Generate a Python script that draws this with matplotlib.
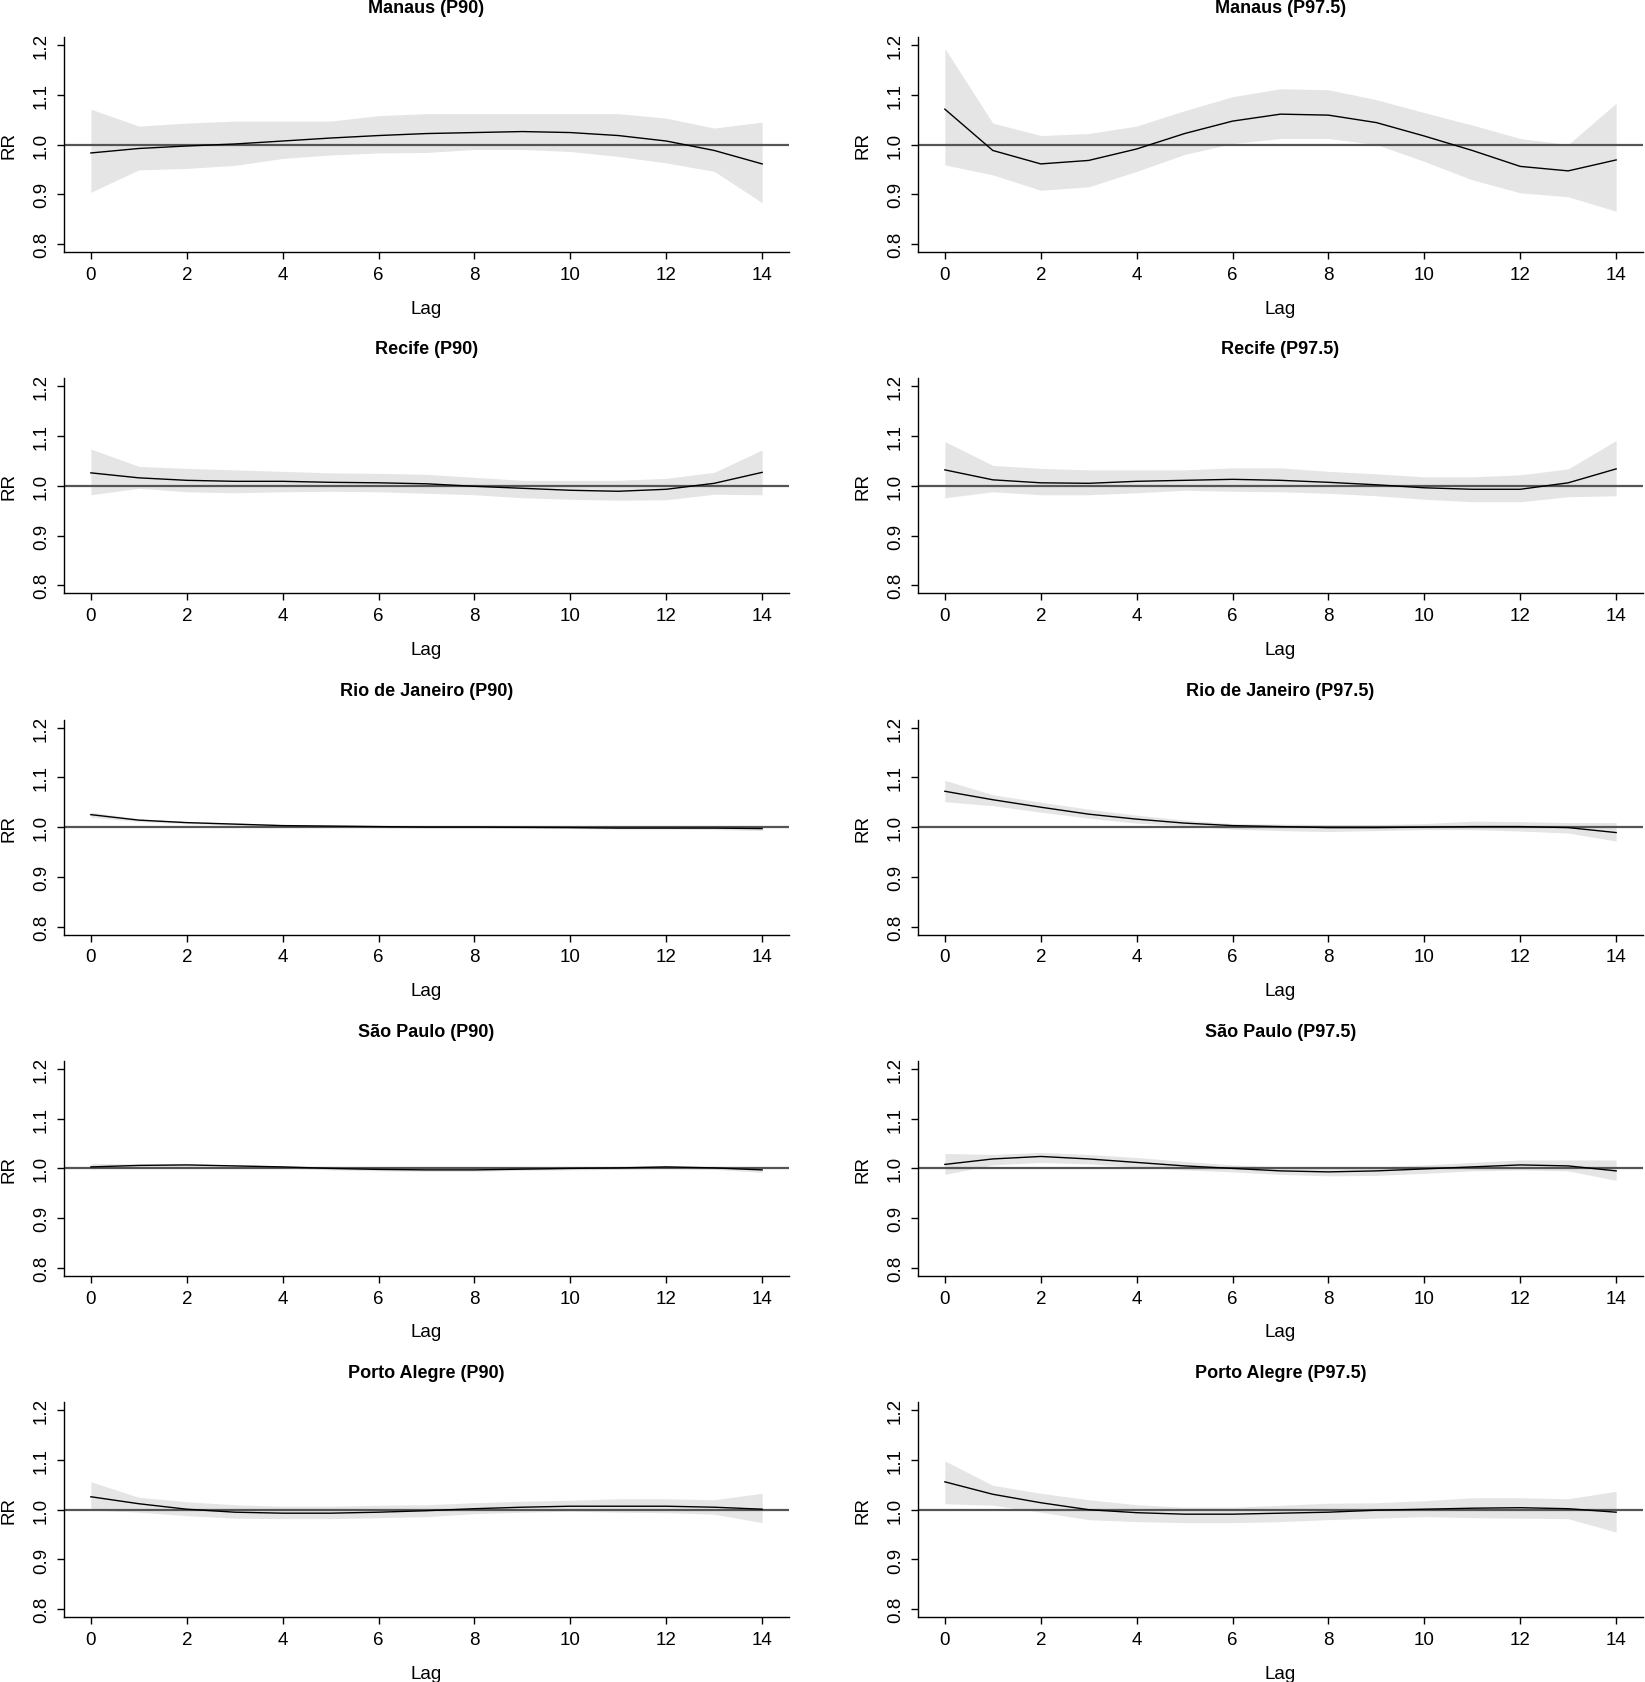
#python3

import numpy as np
import matplotlib
matplotlib.use('Agg')
import matplotlib.pyplot as plt

plt.rcParams['font.family'] = ['Liberation Sans', 'DejaVu Sans']

# lag axis
lags = np.arange(0, 15)

# titles of the ten panels, row by row (left = P90, right = P97.5)
titles = ['Manaus (P90)', 'Manaus (P97.5)',
          'Recife (P90)', 'Recife (P97.5)',
          'Rio de Janeiro (P90)', 'Rio de Janeiro (P97.5)',
          'São Paulo (P90)', 'São Paulo (P97.5)',
          'Porto Alegre (P90)', 'Porto Alegre (P97.5)']

# relative risk estimates, lag 0..14
manaus_p90_rr = [0.983, 0.992, 0.997, 1.001, 1.007, 1.013, 1.018, 1.022, 1.024, 1.026, 1.024, 1.018, 1.007, 0.988, 0.961]
manaus_p90_hi = [1.071, 1.037, 1.043, 1.047, 1.047, 1.047, 1.058, 1.062, 1.062, 1.062, 1.062, 1.062, 1.053, 1.033, 1.045]
manaus_p90_lo = [0.904, 0.949, 0.952, 0.958, 0.972, 0.979, 0.983, 0.984, 0.990, 0.990, 0.986, 0.976, 0.963, 0.946, 0.883]

manaus_p975_rr = [1.071, 0.988, 0.961, 0.968, 0.991, 1.022, 1.047, 1.061, 1.059, 1.044, 1.017, 0.988, 0.956, 0.947, 0.969]
manaus_p975_hi = [1.193, 1.043, 1.018, 1.022, 1.037, 1.068, 1.096, 1.112, 1.110, 1.090, 1.064, 1.039, 1.012, 1.000, 1.083]
manaus_p975_lo = [0.959, 0.939, 0.908, 0.915, 0.946, 0.980, 1.002, 1.012, 1.012, 1.000, 0.966, 0.929, 0.903, 0.895, 0.866]

recife_p90_rr = [1.026, 1.016, 1.011, 1.009, 1.009, 1.007, 1.006, 1.004, 0.999, 0.995, 0.991, 0.989, 0.993, 1.005, 1.027]
recife_p90_hi = [1.074, 1.039, 1.035, 1.032, 1.029, 1.026, 1.025, 1.023, 1.017, 1.011, 1.011, 1.011, 1.015, 1.027, 1.072]
recife_p90_lo = [0.982, 0.995, 0.988, 0.986, 0.988, 0.989, 0.988, 0.985, 0.982, 0.976, 0.973, 0.971, 0.972, 0.983, 0.982]

recife_p975_rr = [1.032, 1.012, 1.006, 1.005, 1.009, 1.011, 1.013, 1.011, 1.007, 1.002, 0.996, 0.993, 0.993, 1.006, 1.034]
recife_p975_hi = [1.089, 1.041, 1.035, 1.032, 1.032, 1.032, 1.036, 1.036, 1.029, 1.024, 1.018, 1.018, 1.022, 1.034, 1.091]
recife_p975_lo = [0.976, 0.988, 0.982, 0.982, 0.986, 0.991, 0.989, 0.988, 0.985, 0.980, 0.973, 0.968, 0.968, 0.978, 0.980]

rio_p90_rr = [1.025, 1.014, 1.009, 1.006, 1.003, 1.002, 1.001, 1.000, 1.000, 0.9995, 0.999, 0.998, 0.998, 0.998, 0.997]
rio_p90_hi = [1.030, 1.017, 1.011, 1.008, 1.005, 1.004, 1.003, 1.002, 1.002, 1.002, 1.001, 1.000, 1.000, 1.000, 0.999]
rio_p90_lo = [1.020, 1.011, 1.007, 1.004, 1.001, 1.000, 0.999, 0.998, 0.998, 0.997, 0.997, 0.996, 0.996, 0.995, 0.993]

rio_p975_rr = [1.072, 1.055, 1.040, 1.026, 1.016, 1.008, 1.003, 1.001, 0.999, 0.999, 1.000, 1.001, 1.001, 0.999, 0.989]
rio_p975_hi = [1.094, 1.065, 1.050, 1.036, 1.024, 1.014, 1.007, 1.006, 1.005, 1.005, 1.007, 1.012, 1.011, 1.009, 1.009]
rio_p975_lo = [1.051, 1.043, 1.030, 1.018, 1.008, 1.003, 0.996, 0.993, 0.991, 0.993, 0.995, 0.995, 0.992, 0.988, 0.972]

sp_p90_rr = [1.003, 1.006, 1.007, 1.005, 1.003, 1.000, 0.998, 0.997, 0.997, 0.9985, 1.000, 1.001, 1.003, 1.001, 0.997]
sp_p90_hi = [1.010, 1.009, 1.009, 1.007, 1.005, 1.003, 1.001, 1.000, 1.000, 1.001, 1.003, 1.004, 1.005, 1.004, 1.004]
sp_p90_lo = [0.999, 1.003, 1.004, 1.003, 1.001, 0.997, 0.995, 0.994, 0.994, 0.996, 0.997, 0.998, 1.000, 0.998, 0.992]

sp_p975_rr = [1.008, 1.019, 1.024, 1.019, 1.012, 1.005, 1.000, 0.995, 0.993, 0.995, 0.999, 1.003, 1.007, 1.005, 0.995]
sp_p975_hi = [1.030, 1.028, 1.032, 1.028, 1.022, 1.014, 1.007, 1.003, 1.001, 1.003, 1.007, 1.012, 1.017, 1.017, 1.017]
sp_p975_lo = [0.988, 1.007, 1.012, 1.009, 1.003, 0.997, 0.993, 0.988, 0.985, 0.986, 0.990, 0.995, 0.997, 0.995, 0.976]

poa_p90_rr = [1.026, 1.012, 1.001, 0.995, 0.993, 0.993, 0.995, 0.998, 1.002, 1.005, 1.007, 1.007, 1.007, 1.005, 1.001]
poa_p90_hi = [1.056, 1.025, 1.016, 1.010, 1.007, 1.007, 1.009, 1.010, 1.014, 1.017, 1.019, 1.022, 1.022, 1.020, 1.033]
poa_p90_lo = [0.999, 0.995, 0.988, 0.983, 0.982, 0.982, 0.984, 0.986, 0.992, 0.995, 0.997, 0.995, 0.994, 0.991, 0.974]

poa_p975_rr = [1.056, 1.031, 1.014, 1.000, 0.994, 0.991, 0.991, 0.993, 0.995, 0.999, 1.001, 1.003, 1.004, 1.002, 0.995]
poa_p975_hi = [1.098, 1.049, 1.033, 1.020, 1.010, 1.005, 1.005, 1.009, 1.013, 1.014, 1.018, 1.024, 1.024, 1.022, 1.037]
poa_p975_lo = [1.012, 1.009, 0.995, 0.980, 0.976, 0.974, 0.974, 0.976, 0.980, 0.983, 0.986, 0.984, 0.983, 0.982, 0.955]

series = [(manaus_p90_rr, manaus_p90_lo, manaus_p90_hi), (manaus_p975_rr, manaus_p975_lo, manaus_p975_hi),
          (recife_p90_rr, recife_p90_lo, recife_p90_hi), (recife_p975_rr, recife_p975_lo, recife_p975_hi),
          (rio_p90_rr, rio_p90_lo, rio_p90_hi), (rio_p975_rr, rio_p975_lo, rio_p975_hi),
          (sp_p90_rr, sp_p90_lo, sp_p90_hi), (sp_p975_rr, sp_p975_lo, sp_p975_hi),
          (poa_p90_rr, poa_p90_lo, poa_p90_hi), (poa_p975_rr, poa_p975_lo, poa_p975_hi)]

W, H = 1645, 1683
fig = plt.figure(figsize=(W / 100, H / 100), dpi=100)

#panel geometry in pixels
col_x = [64, 918]
ax_w = 725
row_top = 38
ax_h = 215
row_step = 341.3

for i, (title, (rr, lo, hi)) in enumerate(zip(titles, series)):
    row, col = divmod(i, 2)
    top = row_top + row * row_step
    ax = fig.add_axes([col_x[col] / W, 1 - (top + ax_h) / H, ax_w / W, ax_h / H])

    ax.fill_between(lags, lo, hi, color='#e5e5e5', linewidth=0)
    ax.axhline(1.0, color='#555555', linewidth=1.6)
    ax.plot(lags, rr, color='black', linewidth=1.0)

    ax.set_xlim(-0.56, 14.56)
    ax.set_ylim(0.784, 1.216)
    ax.set_xticks(range(0, 15, 2))
    ax.set_yticks([0.8, 0.9, 1.0, 1.1, 1.2])
    ax.set_yticklabels(['0.8', '0.9', '1.0', '1.1', '1.2'], rotation=90, va='center')

    ax.spines['top'].set_visible(False)
    ax.spines['right'].set_visible(False)
    for s in ('left', 'bottom'):
        ax.spines[s].set_linewidth(1.0)
        ax.spines[s].set_color('black')
    ax.tick_params(direction='out', length=5, width=1, labelsize=13.5, pad=5)
    ax.tick_params(axis='y', pad=5)

    ax.set_title(title, fontsize=13, fontweight='bold', pad=18)
    ax.set_xlabel('Lag', fontsize=13.5, labelpad=12)
    ax.set_ylabel('RR', fontsize=13.5, labelpad=11)

plt.savefig('out.png', dpi=100)
